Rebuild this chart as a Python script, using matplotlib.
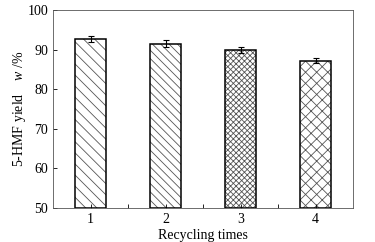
import numpy as np
import matplotlib.pyplot as plt

plt.rcParams['font.family'] = 'Liberation Serif'
plt.rcParams['mathtext.fontset'] = 'custom'
plt.rcParams['mathtext.it'] = 'Liberation Serif:italic'
plt.rcParams['mathtext.rm'] = 'Liberation Serif'
plt.rcParams['hatch.linewidth'] = 0.6

cycles = [1, 2, 3, 4]
yield_pct = [92.6, 91.5, 89.9, 87.2]
yield_err = [0.8, 0.8, 0.7, 0.7]
hatches = ['\\\\\\', '\\\\\\\\', 'xxxxxx', 'xxx']

fig = plt.figure(figsize=(3.75, 2.42), dpi=100)
ax = fig.add_axes([53/375, 1 - 208/242, 300/375, 198/242])

for x, y, e, h in zip(cycles, yield_pct, yield_err, hatches):
    ax.bar(x, y - 50, bottom=50, width=0.41, facecolor='white', edgecolor='#555555',
           hatch=h, linewidth=0)
    ax.bar(x, y - 50, bottom=50, width=0.41, facecolor='none', edgecolor='black',
           linewidth=1.1)
    ax.errorbar(x, y, yerr=e, color='black', capsize=2.5, elinewidth=0.8, capthick=0.8)

ax.set_xlim(0.5, 4.5)
ax.set_ylim(50, 100)
ax.set_xticks(cycles)
ax.set_xticks([1.5, 2.5, 3.5], minor=True)
ax.set_yticks(np.arange(50, 101, 10))
ax.tick_params(axis='both', which='major', direction='in', length=3, width=0.6, labelsize=10)
ax.tick_params(axis='x', which='minor', direction='in', length=3, width=0.6)
for s in ax.spines.values():
    s.set_linewidth(0.6)
    s.set_color('#555555')

ax.set_xlabel('Recycling times', fontsize=10, labelpad=2)
ax.set_ylabel('5-HMF yield    $w$ /%', fontsize=10, va='center')
ax.yaxis.set_label_coords(-0.11, 0.5)

fig.savefig('out.png', dpi=100)
